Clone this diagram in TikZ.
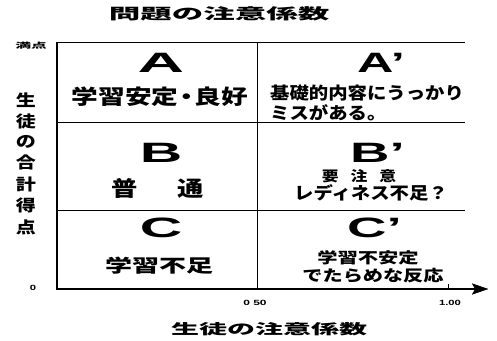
\documentclass[tikz,border=0pt]{standalone}
\usepackage{fontspec}
\newfontfamily\jp{Noto Sans CJK JP}
\newfontfamily\lat{Liberation Sans}
\usetikzlibrary{arrows.meta}
\newcommand\hsc[2]{\scalebox{#1}[1]{#2}}
\newcommand\jf[1]{\jp\bfseries\fontsize{#1}{#1}\selectfont}
\newcommand\lf[1]{\lat\bfseries\fontsize{#1}{#1}\selectfont}
\begin{document}
\begin{tikzpicture}[x=1pt,y=-1pt,
  txt/.style={inner sep=0pt, anchor=base},
  txtw/.style={inner sep=0pt, anchor=base west},
  gridline/.style={line width=0.9pt},
  axisline/.style={line width=1.6pt}]
\useasboundingbox (0,0) rectangle (497,340);
\coordinate (tl) at (57,42);
\coordinate (tr) at (465,42);
\coordinate (ml) at (57,122);
\coordinate (mr) at (465,122);
\coordinate (ll) at (57,210);
\coordinate (lr) at (465,210);
\coordinate (origin) at (57,289);
\coordinate (xend) at (488,289);
\coordinate (dt) at (257,42);
\coordinate (db) at (257,289);
\coordinate (tka) at (448,284);
\coordinate (tkb) at (448,289);
\coordinate (sh1) at (56.2,288.2);
\coordinate (sh2) at (474,289.8);
\coordinate (ah1) at (472,283.5);
\coordinate (ah2) at (475,289);
\coordinate (ah3) at (472,294.5);
% axes and grid
\draw[axisline,line join=miter,-{Stealth[length=16pt,width=11pt]}] (tl) -- (origin) -- (xend);
\fill (sh1) rectangle (sh2);
\fill (ah1) -- (xend) -- (ah3) -- (ah2) -- cycle;
\draw[gridline] (tl) -- (tr);
\draw[gridline] (ml) -- (mr);
\draw[gridline] (ll) -- (lr);
\draw[gridline] (dt) -- (db) (tka) -- (tkb);
% titles
\node[txt] (title) at (219,19) {\jf{15}\hsc{2.1}{問題の注意係数}};
\node[txt] (xlabel) at (269,334) {\jf{14}\hsc{2.0}{生徒の注意係数}};
\node[txt] (full) at (31,48) {\jf{7.5}\hsc{2.1}{満点}};
\node[txt] (ylabel) at (26,106) {\jf{16}\hsc{1.25}{\begin{tabular}[t]{@{}c@{}}生\\[3pt]徒\\[3pt]の\\[3pt]合\\[3pt]計\\[3pt]得\\[3pt]点\end{tabular}}};
\node[txt] (zero) at (33,290) {\lf{7.5}\hsc{1.5}{0}};
\node[txt] (half) at (255,305) {\lf{7.5}\hsc{1.6}{0 50}};
\node[txt] (one) at (450,305) {\lf{7.5}\hsc{1.5}{1.00}};
% cells
\node[txt] (A) at (161,72) {\lf{28}\hsc{2.3}{A}};
\node[txt] (Atxt) at (160,104) {\jf{20.5}\hsc{1.3}{学習安定\hspace{-4pt}・\hspace{-4pt}良好}};
\node[txtw] (Ap) at (357,72) {\lf{28}\hsc{1.8}{A’}};
\node[txtw] (Aptxt) at (270,99) {\jf{17}\hsc{1.14}{\begin{tabular}[t]{@{}l@{}}基礎的内容にうっかり\\[0pt]ミスがある。\end{tabular}}};
\node[txt] (B) at (161,162) {\lf{28}\hsc{2.1}{B}};
\node[txt] (Btxt) at (158,196) {\jf{21}\hsc{1.25}{普\hspace{32pt}通}};
\node[txtw] (Bp) at (350,162) {\lf{28}\hsc{1.95}{B’}};
\node[txt] (Bptxt1) at (359,181) {\jf{14}\hsc{1.2}{要\hspace{10pt}注\hspace{10pt}意}};
\node[txt] (Bptxt2) at (371,199) {\jf{17}\hsc{1.14}{レディネス不足？}};
\node[txt] (C) at (161,237) {\lf{28}\hsc{2.1}{C}};
\node[txt] (Ctxt) at (159,272) {\jf{18}\hsc{1.5}{学習不足}};
\node[txtw] (Cp) at (347,237) {\lf{28}\hsc{1.95}{C’}};
\node[txt] (Cptxt1) at (368,263) {\jf{15}\hsc{1.35}{学習不安定}};
\node[txt] (Cptxt2) at (373,281) {\jf{15.5}\hsc{1.3}{でたらめな反応}};
\end{tikzpicture}
\end{document}
